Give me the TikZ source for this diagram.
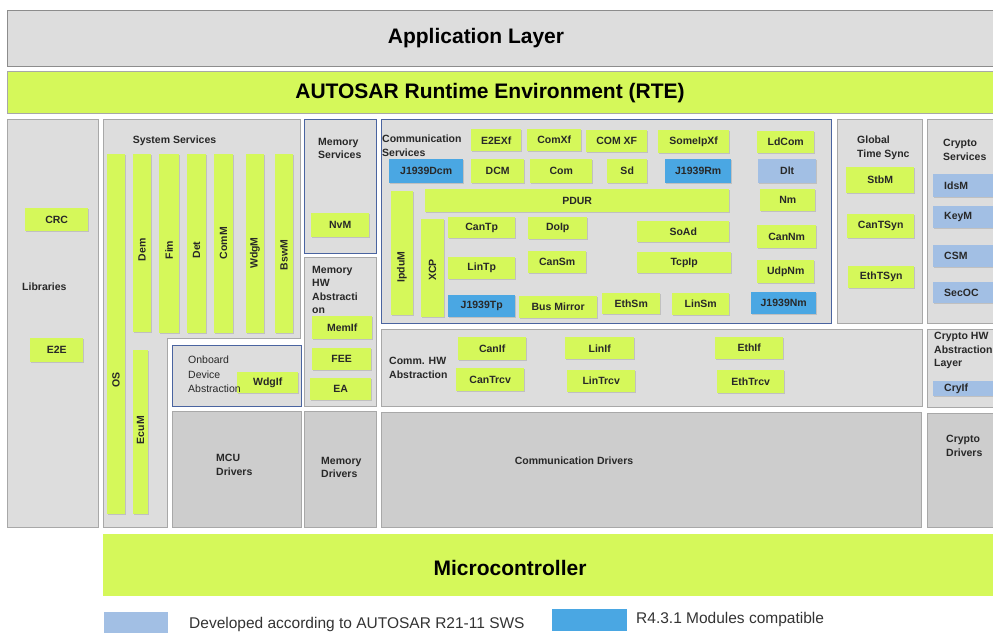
\documentclass[tikz,border=0pt]{standalone}
\usepackage{fontspec}
\setmainfont{Liberation Sans}
\usetikzlibrary{shadows}
\definecolor{autolime}{RGB}{213,248,90}
\definecolor{pale}{RGB}{221,221,221}
\definecolor{dark}{RGB}{205,205,205}
\definecolor{frame}{RGB}{168,168,168}
\definecolor{navy}{RGB}{74,100,160}
\definecolor{skyblue}{RGB}{74,167,227}
\definecolor{paleblue}{RGB}{162,191,228}
\definecolor{ink}{RGB}{40,40,40}

\begin{document}
\begin{tikzpicture}[x=1pt,y=-1pt,sz/.style 2 args={minimum width=#1pt,minimum height=#2pt}]
\tikzstyle{every node}+=[inner sep=0pt,text=ink]
\tikzstyle{pane}=[draw=frame,fill=pale,line width=0.8pt]
\tikzstyle{drvpane}=[draw=frame,fill=dark,line width=0.8pt]
\tikzstyle{bluepane}=[draw=navy,fill=pale,line width=0.9pt]
\tikzstyle{hd}=[font=\bfseries\fontsize{10.5}{13.5}\selectfont]
\tikzstyle{ttl}=[hd,anchor=north west,align=left]
\tikzstyle{mod}=[fill=autolime,anchor=north west,font=\bfseries\fontsize{10.5}{12}\selectfont,drop shadow={opacity=0.3,shadow xshift=1pt,shadow yshift=-1.2pt}]
\tikzstyle{r43}=[mod,fill=skyblue]
\tikzstyle{r21}=[mod,fill=paleblue]
\tikzstyle{cry}=[r21,text width=52pt,inner xsep=11pt,align=left]
\tikzstyle{vlab}=[rotate=90,font=\bfseries\fontsize{10.5}{12}\selectfont]
\tikzstyle{big}=[font=\bfseries\fontsize{21}{24}\selectfont,text=black]
\tikzstyle{keytext}=[anchor=west,font=\fontsize{15.5}{18}\selectfont,text=black!80]
\useasboundingbox (0,0) rectangle (993,632);
\clip (0,0) rectangle (993,632);
\draw [draw=black!45,fill=pale,line width=0.8pt] (7,10) rectangle (1010,66);
\node [big] (app) at (476,38) {Application Layer};
\draw [draw=frame,fill=autolime,line width=0.8pt] (7,71) rectangle (1010,113);
\node [big] (rte) at (490,93) {AUTOSAR Runtime Environment (RTE)};
\draw [pane] (7,119) rectangle (98,527);
\node [hd,anchor=west] (libs) at (22,287) {Libraries};
\node [mod,sz={63}{23}] (crc) at (25,208) {CRC};
\node [mod,sz={53}{24}] (e2e) at (30,338) {E2E};
\draw [pane] (103,119) -- (300,119) -- (300,338) -- (167,338) -- (167,527) -- (103,527) -- cycle;
\node [hd] (systitle) at (174.5,141) {System Services};
\node [mod,sz={18}{360}] (os) at (107,154) {};
\node [mod,sz={18}{178}] (dem) at (133,154) {};
\node [mod,sz={20}{179}] (fim) at (159,154) {};
\node [mod,sz={19}{179}] (det) at (187,154) {};
\node [mod,sz={19}{179}] (comm) at (214,154) {};
\node [mod,sz={18}{179}] (wdgm) at (246,154) {};
\node [mod,sz={18}{179}] (bswm) at (275,154) {};
\node [mod,sz={15}{164}] (ecum) at (133,350) {};
\node [vlab] (oslbl) at (116,380) {OS};
\node [vlab] (demlbl) at (142,250) {Dem};
\node [vlab] (fimlbl) at (169,250) {Fim};
\node [vlab] (detlbl) at (196.5,250) {Det};
\node [vlab] (commlbl) at (223.5,243) {ComM};
\node [vlab] (wdgmlbl) at (255,253) {WdgM};
\node [vlab] (bswmlbl) at (284,255) {BswM};
\node [vlab] (ecumlbl) at (140.5,430) {EcuM};
\draw [draw=navy,fill=pale,line width=0.9pt] (172,345) rectangle (301,406);
\node [mod,sz={61}{21}] (wdgif) at (237,372) {WdgIf};
\node [anchor=north west,align=left,font=\fontsize{10.5}{14.5}\selectfont] (onboard) at (188,356) {Onboard\\Device\\Abstraction};
\draw [drvpane] (172,411) rectangle (301,527);
\node [ttl] (mcu) at (216,454) {MCU\\Drivers};
\draw [bluepane] (304,119) rectangle (376,253);
\node [ttl] (memsrv) at (318,138) {Memory\\Services};
\node [mod,sz={58}{24}] (nvm) at (311,213) {NvM};
\draw [pane] (304,257) rectangle (376,406);
\node [ttl] (memhw) at (312,266) {Memory\\HW\\Abstracti\\on};
\node [mod,sz={60}{23}] (memif) at (312,316) {MemIf};
\node [mod,sz={59}{22}] (fee) at (312,348) {FEE};
\node [mod,sz={61}{22}] (ea) at (310,378) {EA};
\draw [drvpane] (304,411) rectangle (376,527);
\node [ttl] (memdrv) at (321,457) {Memory\\Drivers};
\draw [bluepane] (381,119) rectangle (831,323);
\node [ttl] (comsrv) at (382,135) {Communication\\Services};
\node [mod,sz={50}{22}] (e2exf) at (471,129) {E2EXf};
\node [mod,sz={54}{22}] (comxf) at (527,129) {ComXf};
\node [mod,sz={61}{22}] (comxfb) at (586,130) {COM XF};
\node [mod,sz={71}{23}] (someipxf) at (658,130) {SomeIpXf};
\node [mod,sz={57}{22}] (ldcom) at (757,131) {LdCom};
\node [r43,sz={74}{24}] (jdcm) at (389,159) {J1939Dcm};
\node [mod,sz={53}{24}] (dcm) at (471,159) {DCM};
\node [mod,sz={62}{24}] (com) at (530,159) {Com};
\node [mod,sz={40}{24}] (sd) at (607,159) {Sd};
\node [r43,sz={66}{24}] (jrm) at (665,159) {J1939Rm};
\node [r21,sz={58}{24}] (dlt) at (758,159) {Dlt};
\node [mod,sz={304}{23}] (pdur) at (425,189) {PDUR};
\node [mod,sz={55}{22}] (nm) at (760,189) {Nm};
\node [mod,sz={22}{124}] (ipdum) at (391,191) {};
\node [mod,sz={23}{98}] (xcp) at (421,219) {};
\node [vlab] (ipdumlbl) at (402,267) {IpduM};
\node [vlab] (xcplbl) at (432.5,270) {XCP};
\node [mod,sz={67}{21}] (cantp) at (448,217) {CanTp};
\node [mod,sz={59}{22}] (doip) at (528,217) {DoIp};
\node [mod,sz={92}{21}] (soad) at (637,221) {SoAd};
\node [mod,sz={59}{23}] (cannm) at (757,225) {CanNm};
\node [mod,sz={67}{22}] (lintp) at (448,257) {LinTp};
\node [mod,sz={58}{22}] (cansm) at (528,251) {CanSm};
\node [mod,sz={94}{21}] (tcpip) at (637,252) {TcpIp};
\node [mod,sz={57}{23}] (udpnm) at (757,260) {UdpNm};
\node [r43,sz={67}{22}] (jtp) at (448,295) {J1939Tp};
\node [mod,sz={78}{22}] (busmirror) at (519,296) {Bus Mirror};
\node [mod,sz={58}{21}] (ethsm) at (602,293) {EthSm};
\node [mod,sz={57}{22}] (linsm) at (672,293) {LinSm};
\node [r43,sz={65}{22}] (jnm) at (751,292) {J1939Nm};
\draw [pane] (837,119) rectangle (922,323);
\node [ttl] (gts) at (857,136) {Global\\Time Sync};
\node [mod,sz={68}{26}] (stbm) at (846,167) {StbM};
\node [mod,sz={67}{24}] (cantsyn) at (847,214) {CanTSyn};
\node [mod,sz={66}{22}] (ethtsyn) at (848,266) {EthTSyn};
\draw [pane] (927,119) rectangle (1010,323);
\node [ttl] (crysrv) at (943,139) {Crypto\\Services};
\node [cry,minimum height=23pt] (idsm) at (933,174) {IdsM};
\node [cry,minimum height=22pt] (keym) at (933,206) {KeyM};
\node [cry,minimum height=22pt] (csm) at (933,245) {CSM};
\node [cry,minimum height=21pt] (secoc) at (933,282) {SecOC};
\draw [pane] (381,329) rectangle (922,406);
\node [ttl] (commhw) at (389,357) {Comm. HW\\Abstraction};
\node [mod,sz={68}{23}] (canif) at (458,337) {CanIf};
\node [mod,sz={69}{22}] (linif) at (565,337) {LinIf};
\node [mod,sz={68}{22}] (ethif) at (715,337) {EthIf};
\node [mod,sz={68}{23}] (cantrcv) at (456,368) {CanTrcv};
\node [mod,sz={68}{22}] (lintrcv) at (567,370) {LinTrcv};
\node [mod,sz={67}{23}] (ethtrcv) at (717,370) {EthTrcv};
\draw [pane] (927,329) rectangle (1010,407);
\node [ttl] (cryhw) at (934,332) {Crypto HW\\Abstraction\\Layer};
\node [cry,minimum height=15pt] (cryif) at (933,381) {CryIf};
\draw [drvpane] (381,412) rectangle (921,527);
\node [hd] (commdrv) at (574,461) {Communication Drivers};
\draw [drvpane] (927,413) rectangle (1010,527);
\node [ttl] (crydrv) at (946,435) {Crypto\\Drivers};
\fill [autolime] (103,534) rectangle (1010,596);
\node [big] (mcu) at (510,568) {Microcontroller};
\node [fill=paleblue,anchor=north west,sz={64}{22}] (keyr21) at (104,612) {};
\node [keytext] (keyr21txt) at (189,624) {Developed according to AUTOSAR R21-11 SWS};
\node [fill=skyblue,anchor=north west,sz={75}{22}] (keyr43) at (552,609) {};
\node [keytext] (keyr43txt) at (636,619) {R4.3.1 Modules compatible};
\end{tikzpicture}
\end{document}
